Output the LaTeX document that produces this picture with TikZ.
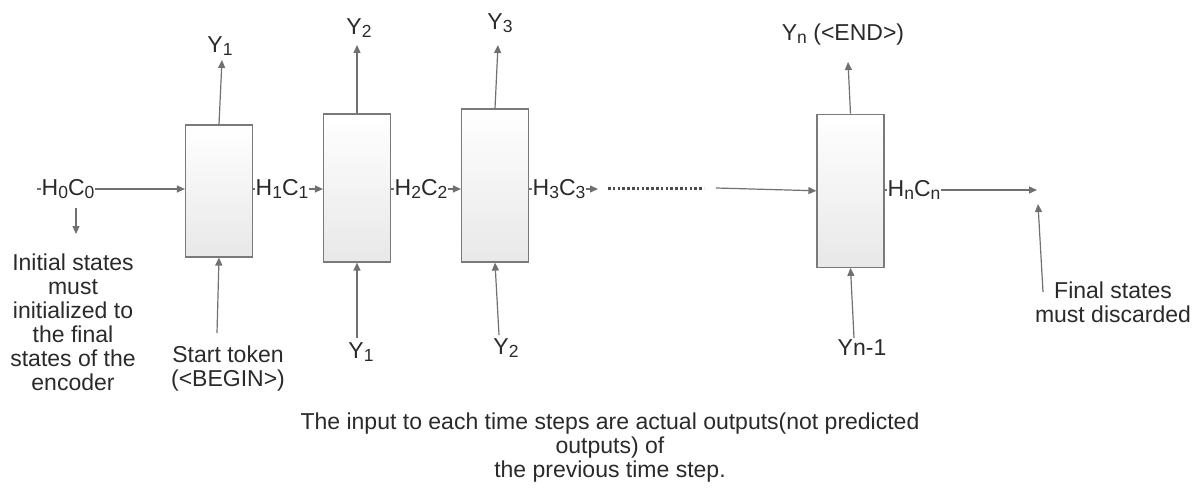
\documentclass[tikz,border=0pt]{standalone}
\usepackage{fontspec}
\setmainfont{Liberation Sans}
\usetikzlibrary{arrows.meta,calc}
\definecolor{linec}{HTML}{707070}
\definecolor{boxline}{HTML}{7A7A7A}
\definecolor{txt}{HTML}{2A2A2A}
\newcommand{\mysub}[1]{\raisebox{-0.28ex}{\fontsize{17.5}{17.5}\selectfont #1}}
\tikzset{
  cell/.style={draw=boxline, line width=1.2pt, top color=white, bottom color=black!9, inner sep=0pt, minimum width=67pt},
  arr/.style={draw=linec, line width=1.2pt, -{Triangle[length=8pt,width=7pt]}},
  lbl/.style={text=txt, font=\fontsize{23}{24}\selectfont, inner sep=1pt},
  hlbl/.style={lbl, fill=white, inner sep=0.5pt},
  para/.style={lbl, align=center},
}
\begin{document}
\begin{tikzpicture}[x=1pt,y=-1pt]
\useasboundingbox (0,0) rectangle (1204,489);
% boxes
\node[cell, minimum height=132pt] (b1) at (219,191) {};
\node[cell, minimum height=148pt] (b2) at (357,188) {};
\node[cell, minimum height=153pt] (b3) at (495,185.5) {};
\node[cell, minimum height=153pt] (b4) at (850.5,190.8) {};
% coordinates
\coordinate (h0s) at (37,189);
\coordinate (hne) at (1037,190);
\coordinate (y1t) at (222,60);
\coordinate (y2t) at (357,45);
\coordinate (y3t) at (498,45);
\coordinate (ynt) at (848,62);
\coordinate (y1s) at (217,333);
\coordinate (y2s) at (357,338);
\coordinate (y3s) at (499,335);
\coordinate (yns) at (854,338);
\coordinate (dns) at (76,208);
\coordinate (dne) at (76,234);
\coordinate (fs) at (1043,292);
\coordinate (fe) at (1038,204);
\coordinate (gs) at (716,188);
\coordinate (ds) at (608,189);
\coordinate (de) at (704,189);
% horizontal state arrows
\draw[arr] (h0s) -- (b1.west |- h0s);
\draw[arr] (b1.east |- h0s) -- (b2.west |- h0s);
\draw[arr] (b2.east |- h0s) -- (b3.west |- h0s);
\draw[arr] (b3.east |- h0s) -- (598,189);
\draw[arr] (gs) -- (b4.west);
\draw[arr] (b4.east |- hne) -- (hne);
\draw[draw=black!70, line width=3pt, dash pattern=on 2.6pt off 2.2pt] (ds) -- (de);
% labels on state arrows
\node[hlbl] (h0) at (68,189) {H\mysub{0}C\mysub{0}};
\node[hlbl] (h1) at (282,189) {H\mysub{1}C\mysub{1}};
\node[hlbl] (h2) at (421,189) {H\mysub{2}C\mysub{2}};
\node[hlbl] (h3) at (559,189) {H\mysub{3}C\mysub{3}};
\node[hlbl] (hn) at (914,190) {H\mysub{n}C\mysub{n}};
% vertical arrows
\draw[arr] (b1.north) -- (y1t);
\draw[arr] (b2.north) -- (y2t);
\draw[arr] (b3.north) -- (y3t);
\draw[arr] (b4.north) -- (ynt);
\draw[arr] (y1s) -- (b1.south);
\draw[arr] (y2s) -- (b2.south);
\draw[arr] (y3s) -- (b3.south);
\draw[arr] (yns) -- (b4.south);
\draw[arr] (dns) -- (dne);
\draw[arr] (fs) -- (fe);
% top labels
\node[lbl, anchor=base] (ty1) at (220,52.5) {Y\mysub{1}};
\node[lbl, anchor=base] (ty2) at (359,34.5) {Y\mysub{2}};
\node[lbl, anchor=base] (ty3) at (500,29.5) {Y\mysub{3}};
\node[lbl, anchor=base] (tyn) at (843,40.5) {Y\mysub{n} (<END>)};
% bottom labels
\node[lbl, anchor=base] (by1) at (361,358.5) {Y\mysub{1}};
\node[lbl, anchor=base] (by2) at (506,354.5) {Y\mysub{2}};
\node[lbl, anchor=base] (byn) at (862,355) {Yn-1};
% paragraphs
\node[para] (init) at (73,322) {Initial states\\must\\initialized to\\the final\\states of the\\encoder};
\node[para] (start) at (228,369) {Start token\\(<BEGIN>)};
\node[para] (final) at (1113,302) {Final states\\must discarded};
\node[para] (note) at (610,448) {The input to each time steps are actual outputs(not predicted\\outputs) of\\the previous time step.};
\end{tikzpicture}
\end{document}
